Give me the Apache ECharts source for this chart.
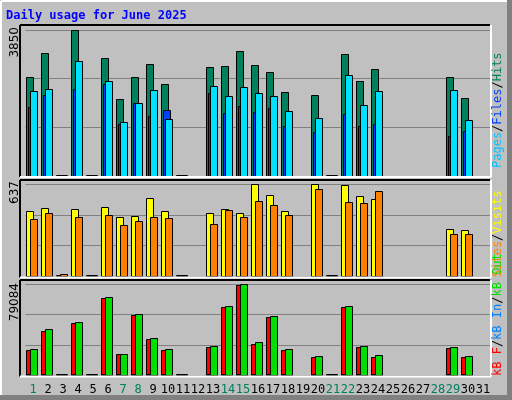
<!DOCTYPE html>
<html><head><meta charset="utf-8">
<script src="https://cdn.jsdelivr.net/npm/echarts@6/dist/echarts.min.js"></script>
<style>html,body{margin:0;padding:0;background:#c0c0c0}#c{width:512px;height:400px}</style>
</head><body><div id="c"></div>
<script>
const days = Array.from({length:31},(_,i)=>String(i+1));
const weekend = [1,7,8,14,15,21,22,28,29];
const N = null;
const hits  = [2603,3235,15,3850,15,3103,2022,2603,2946,2418,15,N,2866,2893,3288,2919,2735,2207,N,2128,15,3209,2497,2814,N,N,N,N,2603,2049,N];
const pages = [1811,2128,15,2286,15,2426,1363,1917,1574,1732,15,N,2181,1653,1838,1680,1785,1311,N,1152,15,1627,1311,1363,N,N,N,N,1047,1179,N];
const files = [2241,2286,15,3024,15,2497,1416,1917,2260,1495,15,N,2365,2102,2339,2181,2102,1706,N,1522,15,2656,1864,2234,N,N,N,N,2260,1469,N];
const visits= [450,471,7,464,3,478,409,415,540,450,3,N,436,464,436,637,561,450,N,637,3,630,554,533,N,N,N,N,325,318,N];
const sites = [395,436,14,409,3,422,353,381,409,402,3,N,360,457,409,519,492,422,N,602,3,512,505,589,N,N,N,N,291,291,N];
const kbF   = [21536,38103,300,45078,300,66877,18049,52054,31128,21536,300,N,24152,59029,78212,26768,50310,21536,N,15433,300,59029,24152,15433,N,N,N,N,23280,15433,N];
const kbIn  = [600,600,0,600,0,600,300,600,600,600,0,N,600,600,600,600,600,600,N,600,0,600,600,600,N,N,N,N,300,300,N];
const kbOut = [22408,39847,300,46211,300,67749,18049,52926,32000,22408,300,N,25024,59901,79084,28512,51181,22408,N,16305,300,59901,25024,17177,N,N,N,N,24152,16305,N];
const maxLabels = ['3850','637','79084'];

const panels=[{top:30,h:146,max:3850},{top:184.3,h:92,max:637},{top:284.3,h:90.7,max:79084}];
function bar(name,data,gi,color,off,w){
  return {type:'custom',name,xAxisIndex:gi,yAxisIndex:gi,data:data.map((v,i)=>[i,v]),
    renderItem:(p,api)=>{
      const v=api.value(1); if(v==null||isNaN(v)) return null;
      const t=api.coord([api.value(0),v]), b=api.coord([api.value(0),0]);
      const h=Math.max(b[1]-t[1],1);
      return {type:'rect',shape:{x:Math.round(t[0]+off)+0.5,y:Math.round(b[1]-h)+0.5,width:w,height:Math.round(h)},
        style:{fill:color,stroke:'#000',lineWidth:1}};
    }};
}
const grids=panels.map(p=>({left:25.5,width:465,top:p.top,height:p.h}));
const xAxes=panels.map((p,i)=>({gridIndex:i,type:'category',data:days,boundaryGap:true,
  axisLine:{show:false},axisTick:{show:false},
  axisLabel:i<2?{show:false}:{show:true,margin:9,fontFamily:'DejaVu Sans Mono',fontSize:12,interval:0,
    formatter:v=>weekend.includes(+v)?'{w|'+v+'}':'{n|'+v+'}',
    rich:{w:{color:'#00805c',fontFamily:'DejaVu Sans Mono',fontSize:12},n:{color:'#000',fontFamily:'DejaVu Sans Mono',fontSize:12}}}}));
const yAxes=panels.map((p,i)=>({gridIndex:i,type:'value',min:0,max:p.max,interval:p.max/3,
  axisLine:{show:false},axisTick:{show:false},axisLabel:{show:false},
  splitLine:{show:true,lineStyle:{color:'#808080',width:1}}}));
// filter out top split line by drawing panel top border over it
function panel(y1,y2){
  return [
    {type:'line',shape:{x1:20,y1:y1,x2:490,y2:y1},style:{stroke:'#000',lineWidth:2},z:10},
    {type:'line',shape:{x1:20,y1:y1,x2:20,y2:y2},style:{stroke:'#000',lineWidth:2},z:10},
    {type:'line',shape:{x1:20,y1:y2,x2:491,y2:y2},style:{stroke:'#fff',lineWidth:2},z:10},
    {type:'line',shape:{x1:491,y1:y1,x2:491,y2:y2},style:{stroke:'#fff',lineWidth:2},z:10}];
}
function side(y,segs){
  const rich={};let txt='';
  segs.forEach((s,i)=>{rich['s'+i]={fill:s[1],fontFamily:'DejaVu Sans Mono',fontSize:12};txt+='{s'+i+'|'+s[0]+'}';});
  return {type:'text',x:498,y:y,rotation:Math.PI/2,z:10,
    style:{text:txt,rich,textAlign:'left',textVerticalAlign:'middle'}};
}
function ml(y,t){return {type:'text',x:15,y:y,rotation:Math.PI/2,z:10,
  style:{text:t,fill:'#000',font:'12px "DejaVu Sans"',textAlign:'right',textVerticalAlign:'middle'}};}
const graphic=[
  {type:'rect',shape:{x:0,y:0,width:512,height:400},style:{fill:'#c0c0c0'},z:-10,silent:true},
  {type:'line',shape:{x1:1,y1:1,x2:507,y2:1},style:{stroke:'#fff',lineWidth:2},z:5},
  {type:'line',shape:{x1:1,y1:1,x2:1,y2:395},style:{stroke:'#fff',lineWidth:2},z:5},
  {type:'rect',shape:{x:507,y:0,width:5,height:400},style:{fill:'#808080'},z:5},
  {type:'rect',shape:{x:0,y:395,width:512,height:5},style:{fill:'#808080'},z:5},
  {type:'text',x:6,y:16,z:10,style:{text:'Daily usage for June 2025',fill:'#0000ff',font:'bold 12px "DejaVu Sans Mono"',textVerticalAlign:'middle'}},
  ...panel(25,177),...panel(180,277.5),...panel(280,376.5),
  side(168,[['Pages','#00c0ff'],['/','#000'],['Files','#0040ff'],['/','#000'],['Hits','#00805c']]),
  side(277,[['Sites','#ff8000'],['/','#000'],['Visits','#ffff00']]),
  side(376,[['kB F','#ff0000'],['/','#000'],['kB In','#0080ff'],['/','#000'],['kB Out','#00e000']]),
  ml(27,maxLabels[0]),ml(181,maxLabels[1]),ml(283,maxLabels[2])
];
// fix side text: start at bottom, reading upward
graphic.forEach(g=>{if(g.type==='text'&&g.x===498){g.style.textAlign='left';}});
const chart=echarts.init(document.getElementById('c'),null,{renderer:'canvas'});
chart.setOption({animation:false,backgroundColor:'#c0c0c0',grid:grids,xAxis:xAxes,yAxis:yAxes,graphic,
  series:[
    bar('Hits',hits,0,'#00805c',-7.5,7),
    bar('Pages',pages,0,'#0040ff',-5.5,7),
    bar('Files',files,0,'#00e0ff',-3.5,7),
    bar('Visits',visits,1,'#ffff00',-7.5,7),
    bar('Sites',sites,1,'#ff8000',-3.5,7),
    bar('KB F',kbF,2,'#ff0000',-7.5,7),
    bar('KB In',kbIn,2,'#0080ff',-6,2),
    bar('KB Out',kbOut,2,'#00e000',-3.5,7)
  ]});
</script></body></html>
